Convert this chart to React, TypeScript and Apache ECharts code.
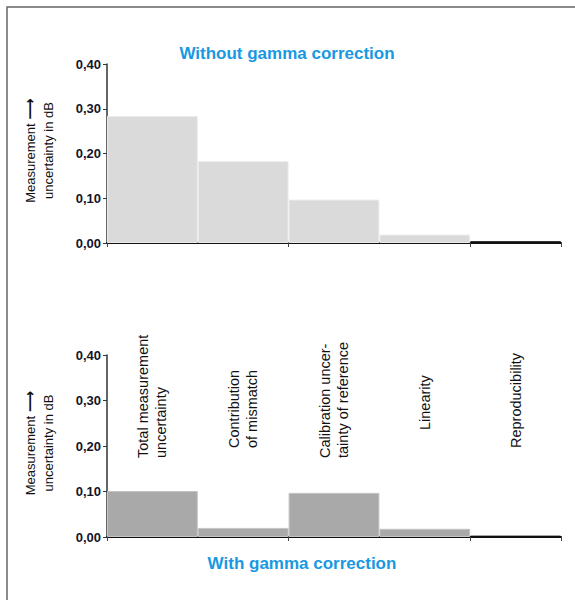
import React, { useEffect, useRef } from "react";
import * as echarts from "echarts";

const categories = [
  "Total measurement\nuncertainty",
  "Contribution\nof mismatch",
  "Calibration uncer-\ntainty of reference",
  "Linearity",
  "Reproducibility",
];
const labelOffsets = [0, 10, 0, 28, 10];
const withoutGamma = [0.284, 0.183, 0.097, 0.019, 0.004];
const withGamma = [0.101, 0.02, 0.097, 0.018, 0.003];
const yTicks = { min: 0, max: 0.4, interval: 0.1 };
const topTitle = "Without gamma correction";
const bottomTitle = "With gamma correction";
const yName = "Measurement {a|⟶}\nuncertainty in dB";

const BLUE = "#1898e2";
const NARROW = '"Liberation Sans Narrow", "Arial Narrow", sans-serif';
const SANS = '"Liberation Sans", Arial, sans-serif';

export default function App() {
  const ref = useRef<HTMLDivElement>(null);
  useEffect(() => {
    if (!ref.current) return;
    const chart = echarts.init(ref.current, undefined, { renderer: "svg" });
    const yAxisBase = (gridIndex: number) => ({
      type: "value",
      gridIndex,
      min: yTicks.min,
      max: yTicks.max,
      interval: yTicks.interval,
      splitLine: { show: false },
      axisLine: { show: true, lineStyle: { color: "#333", width: 1.5 } },
      axisTick: { show: true, length: 4, lineStyle: { color: "#333" } },
      axisLabel: {
        margin: 6,
        color: "#14142a",
        fontFamily: NARROW,
        fontWeight: "bold",
        fontSize: 13,
        formatter: (v: number) => v.toFixed(2).replace(".", ","),
      },
      name: yName,
      nameLocation: "middle",
      nameRotate: 90,
      nameGap: 50,
      nameTextStyle: {
        fontFamily: SANS,
        fontSize: 13,
        color: "#111",
        lineHeight: 18,
        padding: [0, 0, 0, 6],
        rich: {
          a: {
            fontFamily: '"DejaVu Sans", sans-serif',
            fontSize: 15,
            fontWeight: "bold",
            color: "#111",
            lineHeight: 18,
          },
        },
      },
    });
    const xAxisBase = (gridIndex: number) => ({
      type: "category",
      gridIndex,
      data: categories,
      axisLine: { show: true, lineStyle: { color: "#111", width: 2 } },
      axisTick: { show: true, length: 4, lineStyle: { color: "#444", width: 1 } },
      axisLabel: { show: false },
    });
    const barBase = {
      type: "bar",
      barCategoryGap: "0%",
      barGap: "0%",
    };
    const option: any = {
      animation: false,
      grid: [
        { left: 107, top: 64, width: 454, height: 179 },
        { left: 107, top: 355, width: 454, height: 182 },
      ],
      xAxis: [
        xAxisBase(0),
        xAxisBase(1),
        {
          type: "category",
          gridIndex: 1,
          position: "top",
          data: categories.map((c, i) => ({
            value: c,
            textStyle: { padding: [0, 0, 0, labelOffsets[i]] },
          })),
          axisLine: { show: false },
          axisTick: { show: false },
          axisLabel: {
            show: true,
            interval: 0,
            rotate: -90,
            margin: -103,
            fontFamily: SANS,
            fontSize: 14.5,
            lineHeight: 18,
            color: "#111",
          },
        },
      ],
      yAxis: [yAxisBase(0), yAxisBase(1)],
      series: [
        {
          ...barBase,
          xAxisIndex: 0,
          yAxisIndex: 0,
          data: withoutGamma.map((v, i) => ({
            value: v,
            itemStyle:
              i === 4
                ? { color: "#111", borderColor: "#111", borderWidth: 1 }
                : { color: "#dadada", borderColor: "#ececec", borderWidth: 1 },
          })),
        },
        {
          ...barBase,
          xAxisIndex: 1,
          yAxisIndex: 1,
          data: withGamma.map((v, i) => ({
            value: v,
            itemStyle:
              i === 4
                ? { color: "#111", borderColor: "#111", borderWidth: 1 }
                : { color: "#a9a9a9", borderColor: "#c4c4c4", borderWidth: 1 },
          })),
        },
      ],
      graphic: [
        {
          type: "polyline",
          shape: { points: [[7, 600], [7, 7], [575, 7]] },
          style: { stroke: "#666", lineWidth: 1.5, fill: "none" },
          silent: true,
        },
        {
          type: "text",
          x: 287,
          y: 53,
          style: {
            text: topTitle,
            fill: BLUE,
            font: `bold 17px ${NARROW}`,
            textAlign: "center",
            textVerticalAlign: "middle",
          },
        },
        {
          type: "text",
          x: 302,
          y: 563,
          style: {
            text: bottomTitle,
            fill: BLUE,
            font: `bold 17px ${NARROW}`,
            textAlign: "center",
            textVerticalAlign: "middle",
          },
        },
      ],
    };
    chart.setOption(option);
    return () => chart.dispose();
  }, []);
  return (
    <div
      ref={ref}
      style={{ position: "absolute", left: 0, top: 0, width: 575, height: 600, background: "#fff" }}
    />
  );
}
